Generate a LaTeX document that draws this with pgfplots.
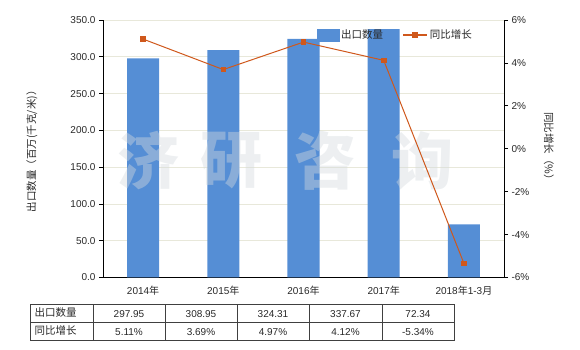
\documentclass[border=0pt]{standalone}
\usepackage{pgfplots}
\pgfplotsset{compat=1.18}
\usepackage{fontspec}
\setmainfont{Liberation Sans}
\newfontfamily\cjk{Noto Sans CJK SC}
\definecolor{barblue}{RGB}{85,142,213}
\definecolor{lineor}{RGB}{207,88,28}
\definecolor{gridc}{RGB}{232,232,218}
\definecolor{txt}{RGB}{40,40,40}
\definecolor{wmc}{RGB}{212,218,222}
\begin{document}
\begin{tikzpicture}[x=1pt,y=1pt]
\useasboundingbox (0,0) rectangle (580,350);
\begin{axis}[
  at={(103pt,72.5pt)}, anchor=south west,
  scale only axis, width=401pt, height=257.5pt,
  xmin=-0.5, xmax=4.5, ymin=0, ymax=350,
  axis x line*=bottom, axis y line*=left,
  xtick={0,1,2,3,4},
  xticklabels={2014{\cjk 年},2015{\cjk 年},2016{\cjk 年},2017{\cjk 年},2018{\cjk 年}1-3{\cjk 月}},
  xtick style={draw=none},
  ytick={0,50,...,350},
  tick align=outside, major tick length=4pt,
  ymajorgrids, grid style={gridc, line width=0.6pt},
  /pgf/number format/.cd, fixed, fixed zerofill, precision=1, assume math mode=true,
  /pgfplots/.cd,
  ticklabel style={font=\fontsize{10}{12}\selectfont, text=txt},
  axis line style={black, line width=0.8pt},
  ytick style={black, line width=0.8pt},
  ylabel={\cjk 出口数量（百万(千克/米)）},
  ylabel style={at={(axis description cs:-0.177,0.5)}, anchor=center, font=\fontsize{10.5}{12}\selectfont, text=txt},
  xticklabel style={yshift=-1pt},
]
\addplot[ybar, bar width=0.4, fill=barblue, draw=none] coordinates {
 (0,297.95) (1,308.95) (2,324.31) (3,337.67) (4,72.34)};
\end{axis}
% watermark
\foreach \xx/\ch in {148/济,231/研,325/咨,422/询}{
  \node[font=\cjk\bfseries\fontsize{62}{62}\selectfont, text=wmc, opacity=0.42] at (\xx,189) {\ch};
}
\begin{axis}[
  at={(103pt,72.5pt)}, anchor=south west,
  scale only axis, width=401pt, height=257.5pt,
  xmin=-0.5, xmax=4.5, ymin=-6, ymax=6,
  axis x line=none, axis y line*=right,
  ytick={-6,-4,...,6},
  yticklabel={\pgfmathprintnumber{\tick}\%},
  tick align=outside, major tick length=4pt,
  /pgf/number format/assume math mode=true,
  ticklabel style={font=\fontsize{10}{12}\selectfont, text=txt},
  axis line style={black, line width=0.8pt},
  ytick style={black, line width=0.8pt},
  ylabel={\cjk 同比增长（\%）},
  ylabel style={at={(axis description cs:1.112,0.5)}, anchor=center, rotate=180, font=\fontsize{10.5}{12}\selectfont, text=txt},
  legend style={at={(0.53,0.975)}, anchor=north west, draw=none, fill=none,
    legend columns=2, font=\cjk\fontsize{10.5}{12}\selectfont, text=txt,
    /tikz/every even column/.append style={column sep=17pt},
    inner sep=1pt},
]
\addlegendimage{legend image code/.code={\fill[barblue] (0pt,-6pt) rectangle (22pt,6pt);}}
\addlegendentry{出口数量}
\addplot[lineor, line width=1pt, mark=square*, mark size=2.3pt, mark options={fill=lineor, draw=lineor},
  legend image code/.code={\draw[lineor, line width=1.8pt] (0pt,0pt) -- (24pt,0pt); \fill[lineor] (9.5pt,-2.5pt) rectangle (14.5pt,2.5pt);}]
  coordinates {(0,5.11) (1,3.69) (2,4.97) (3,4.12) (4,-5.34)};
\addlegendentry{同比增长}
\end{axis}
% data table
\begin{scope}[line width=0.8pt]
\draw[black!75] (30,45.5) rectangle (454,10);
\draw[black!75] (30,28) -- (454,28);
\foreach \xx in {93,165,237,309,382}{\draw[black!75] (\xx,45.5) -- (\xx,10);}
\end{scope}
\begin{scope}[every node/.style={font=\fontsize{10}{12}\selectfont, text=txt}]
\node[anchor=west, font=\cjk\fontsize{10.5}{12}\selectfont] at (31,37) {出口数量};
\node[anchor=west, font=\cjk\fontsize{10.5}{12}\selectfont] at (31,19) {同比增长};
\foreach \xx/\v/\g in {129/297.95/5.11\%,201/308.95/3.69\%,273/324.31/4.97\%,345.5/337.67/4.12\%,418/72.34/-5.34\%}{
  \node at (\xx,36) {\v};
  \node at (\xx,18) {\g};
}
\end{scope}
\end{tikzpicture}
\end{document}
